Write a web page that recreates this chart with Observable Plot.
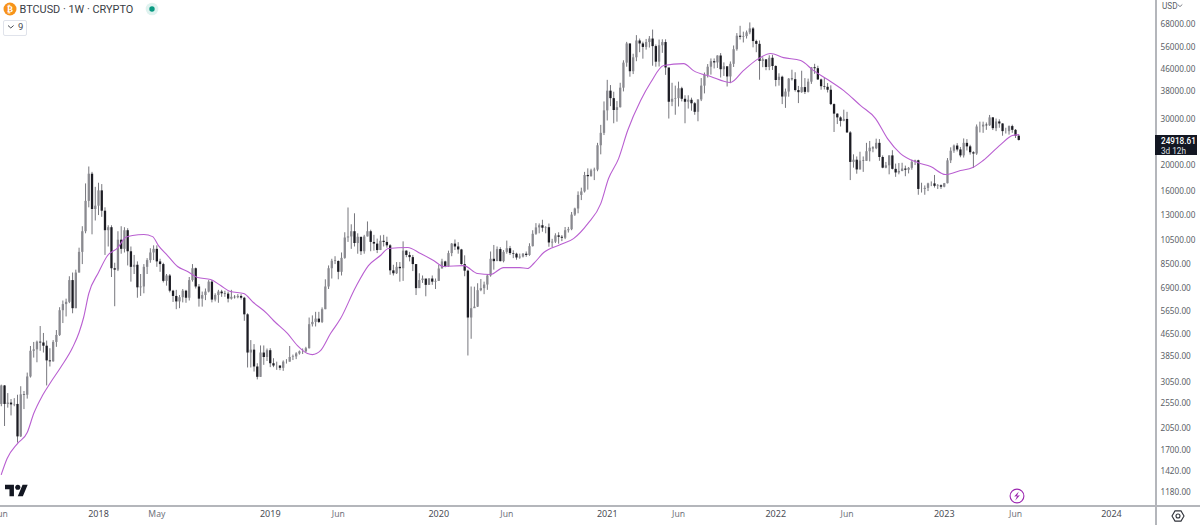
<!DOCTYPE html>
<html><head><meta charset="utf-8">
<script src="https://cdn.jsdelivr.net/npm/d3@7"></script>
<script src="https://cdn.jsdelivr.net/npm/@observablehq/plot@0.6"></script>
<style>
html,body{margin:0;padding:0;background:#fff;overflow:hidden}
#wrap{position:relative;width:1200px;height:525px;overflow:hidden;font-family:Roboto,"Noto Sans",sans-serif}
#wrap svg.plot{position:absolute;left:0;top:0;font-family:Roboto,"Noto Sans",sans-serif}
.abs{position:absolute}
</style></head><body><div id="wrap"></div>
<script>
const firstOpen = 2530;
const closes = [
2970,2530,2560,2520,2530,1910,2750,2740,3210,4010,
4060,4340,4310,4190,3690,3660,4330,4600,5700,6010,
6130,7400,5800,7900,9450,11300,14700,18600,13700,14100,
16100,13500,11400,11700,8200,8100,10500,9700,11400,9500,
8300,8450,6950,7000,8300,8800,9400,9700,8700,8500,
7350,7700,6750,6450,6150,6380,6750,6350,7400,8200,
7000,6300,6500,6700,7300,6250,6500,6700,6600,6580,
6300,6400,6380,6450,6350,5500,3950,4050,3500,3200,
3950,3800,4030,3600,3530,3530,3460,3650,3650,3800,
3820,3920,3990,3990,4100,5050,5150,5300,5150,5750,
7000,8200,8750,8730,7950,8970,10700,10800,11300,10200,
10770,9500,10800,11300,10300,10150,9600,10400,10300,10000,
8050,7850,8300,8200,9550,9200,9030,8500,6900,7400,
7500,7100,7500,7300,7350,8180,8700,8350,9350,10150,
9900,9650,8500,8030,5350,5800,5880,6780,6900,7120,
7700,8900,8720,9680,8720,9450,9750,9350,9300,9000,
9070,9300,9200,9930,11050,11680,11900,11650,11700,10250,
10320,10900,10770,10680,11400,11500,13050,13760,15480,15950,
18400,18200,19150,19270,23800,26500,32200,38200,35800,32300,
33100,39200,48700,57500,45200,51000,59000,57500,55800,58200,
60000,56200,49100,56600,58200,46700,34700,35600,35800,39000,
35600,34700,35300,34250,31800,35400,39900,43800,47000,49300,
48800,51800,46000,47200,43200,48200,54700,61500,60900,61300,
63300,65500,58700,57300,49400,50100,46900,50800,47300,41900,
43100,36300,37900,42400,42200,38400,37700,39400,37800,41300,
46800,46400,42100,39700,39500,38500,34000,31300,30300,29400,
29900,26600,20600,21000,19300,20850,20800,22600,23300,23200,
24300,21500,19600,20000,21800,19400,18800,19050,19450,19250,
19570,20630,20900,16300,16300,16450,17100,17100,16750,16830,
16620,17130,20880,22700,23740,22950,21800,24300,23570,22400,
22150,28000,28000,28450,28300,30300,27600,29250,28750,26900,
26900,28100,27200,25850,24918.61];
const highs = [
2990,2980,2780,2640,2660,2740,2950,2830,3320,4180,
4330,4380,4970,4680,4380,4100,4400,4800,5850,6200,
6300,7650,7900,8100,9800,11800,17100,19800,18900,16600,
17200,17000,13900,11900,11900,8600,11300,11800,11700,11600,
9900,9200,8700,7800,8500,8950,9750,10000,10000,8900,
8600,7800,7800,6800,6800,6500,6850,6800,7600,8500,
8250,7150,6700,6880,7400,7410,6600,6800,6800,6750,
6700,6800,6500,6550,6550,6400,5550,4400,4250,3600,
4200,4200,4090,4100,3760,3650,3530,3690,3730,4180,
3880,3960,4020,4090,4150,5350,5450,5620,5620,5840,
7450,8400,8900,9100,8780,9400,11200,13880,12000,13200,
11100,10650,10950,12300,11450,10950,10600,10900,10950,10780,
10100,8450,8650,8650,10350,9570,9450,9200,8500,7850,
7700,7450,7530,7700,7500,8450,8900,8750,9550,10200,
10520,10280,9700,9170,8100,7000,6990,7200,7470,7300,
7800,9480,10030,9900,9840,9600,10420,9950,9580,9380,
9310,9350,9480,10180,11400,12120,12090,12480,11800,12080,
10580,11100,11200,10930,11720,11730,13350,13860,15960,16480,
18900,19480,19420,19600,24300,28400,34800,41950,40100,37850,
34900,40900,49700,58300,57500,52600,61800,60000,58400,59800,
61300,64850,57000,59500,59600,59600,46500,40900,39900,41300,
39500,36700,36700,35950,34600,35400,42600,44700,48100,50500,
50500,51900,52900,48800,45000,49200,56500,62900,67000,63700,
64300,69000,66300,59400,59000,51000,50200,51900,52100,47600,
44400,43500,38900,42600,45800,44800,39800,45400,42600,42400,
46900,48200,47400,42400,42900,40800,40000,34200,31400,30600,
32400,31800,26900,22000,21600,22500,21600,24300,24700,23600,
25200,25100,21800,20600,21800,22800,20300,20400,20450,19950,
19700,21000,21000,21000,17200,16800,17200,17400,18400,17000,
16950,17170,21300,23370,23950,24250,23450,25250,25100,23900,
22600,28500,29200,29200,29000,30950,30400,30000,29800,28800,
27700,28250,28450,27400,26100];
const lows = [
2480,2090,2450,2290,2480,1810,1900,2420,2650,3180,
3780,3630,4010,3950,2970,3500,3650,4150,4560,5100,
5400,6060,5550,5800,7900,8500,11100,13900,11000,12400,
13000,12800,9200,9900,7600,5900,8000,9300,9400,8400,
7300,7800,6350,6450,6600,7800,8600,8800,8300,7950,
7250,7050,6650,6120,5750,5800,6100,6080,6200,7300,
6880,5880,5880,6220,6650,6100,6150,6080,6400,6400,
6100,6250,6300,6320,6250,5200,3470,3470,3350,3130,
3200,3550,3670,3480,3480,3400,3390,3370,3590,3650,
3700,3730,3880,3900,3950,4090,4950,4950,5100,5100,
5750,6850,7500,8500,7450,7700,8900,10300,9700,9900,
9300,9200,9300,10800,9500,9550,9350,9600,9900,9800,
7750,7700,7800,7300,7350,9020,8700,8000,6500,7230,
7220,6430,7100,7100,6850,7350,8200,8270,8300,9100,
9600,9300,8450,7650,3850,4450,5850,5860,6720,6550,
6800,7620,8100,8800,8700,8630,9300,9200,8950,8830,
8900,9000,9050,9130,9900,10950,11100,11250,11100,9880,
9850,10200,10140,10370,10550,11170,11400,12900,13200,14800,
15800,16200,18150,17600,19000,22000,26000,29500,33400,28800,
29200,33000,37950,47000,43100,44100,49300,53300,50400,54500,
55500,47400,47000,47100,53000,43800,30000,33400,31000,33300,
34800,28800,32700,32100,31000,29300,34900,37300,42800,43900,
46300,46500,42800,43400,39600,40750,46900,54000,59500,58000,
60000,62300,55600,53300,42000,46800,45600,45600,45700,39650,
39900,34000,32900,36250,41700,37900,34300,37500,37100,37600,
40500,44200,41900,38500,38600,37600,33700,26700,28600,28000,
29300,26500,17600,19600,18600,19300,18900,20800,20700,22400,
23000,20800,19500,19500,18500,19300,18100,18500,19000,18200,
18650,19250,20050,15500,15800,15500,16000,16700,16500,16300,
16300,16530,17100,20400,22300,22550,21450,21400,22750,21950,
19550,21900,26600,26500,27200,28150,27150,26900,27700,25850,
26350,26100,26500,25350,24800];

const maWeeks = [0,1.8,5,8,10,12.7,15.2,18.3,22,24,25.4,27,30,32.8,36,38.3,40.5,44,46.7,48.5,51.3,54.4,57.5,60.6,64.6,67.7,70.7,74.8,77.8,82,84,88.3,91.4,94.5,96,98.5,101.6,104.7,109.3,113.3,117,119.5,125.4,129.4,133.4,136.5,142.7,147,151,155,160,162.4,164.3,167.4,172.6,176.6,181,185,187.4,190.5,193.3,197.3,200.4,204.4,210.6,213.6,218.9,225,229,233.7,237.4,241.4,246.7,250.7,255,260,265.2,269.8,273.5,277.5,282.8,286.8,291.4,296,299.8,303,308.4,312,314];
const maValues = [1379,1584,1803,1983,2338,2733,3059,3484,4141,4719,5374,6616,7934,9193,9852,10745,10930,11030,10830,10020,9193,8358,8005,7597,7467,7088,6729,6616,6120,5561,5236,4679,4215,3932,3897,4033,4679,5324,6968,8426,9193,9772,9852,9350,8806,8358,8426,7868,7800,8282,8282,8214,8582,9438,10112,10649,12124,14416,17911,21298,27152,35210,41154,47675,48498,45628,43357,41154,45628,50626,52904,51088,49776,45628,42242,38379,33701,30124,25316,22236,20570,19876,18544,19196,19700,20937,24038,25990,26221];

const priceTicks = [68000,56000,46000,38000,30000,20000,16000,13000,10500,8500,6900,5650,4650,3850,3050,2550,2050,1700,1420,1180];
const yearWeeks = [30,83,135,187,239,291,342.6];
const yearLabels = ["2018","2019","2020","2021","2022","2023","2024"];
const monthWeeks = [0,48,104,156,209,261,313];
const monthLabels = ["Jun","May","Jun","Jun","Jun","Jun","Jun"];

const candles = closes.map((c,i)=>({week:i,open:i?closes[i-1]:firstOpen,close:c,high:highs[i],low:lows[i],up:c>=(i?closes[i-1]:firstOpen)}));
const ma = maWeeks.map((w,i)=>({week:w,value:maValues[i]}));
const candleFill = d=>d.up?"#8a8a90":"#1c1c23";

const chart = Plot.plot({
  width:1200,height:525,marginTop:0,marginLeft:0,marginRight:45,marginBottom:20,
  style:{background:"transparent",overflow:"hidden"},
  x:{type:"linear",domain:[-0.247,356.2],label:null},
  y:{type:"log",domain:[1054,83790],label:null},
  marks:[
    Plot.ruleX(candles,{x:"week",y1:"low",y2:"high",stroke:"#77777d",strokeWidth:1}),
    Plot.ruleX(candles,{x:"week",y1:"open",y2:"close",stroke:candleFill,strokeWidth:2.3}),
    Plot.line(ma,{x:"week",y:"value",stroke:"#b95fd1",strokeWidth:1.1,curve:"monotone-x"}),
    Plot.axisY(priceTicks,{anchor:"right",tickSize:0,tickPadding:5,tickFormat:d=>d.toFixed(2),fontSize:8.2,fill:"#5c5f68",textAnchor:"start",label:null}),
    Plot.axisX(yearWeeks,{anchor:"bottom",tickSize:0,tickPadding:5,tickFormat:d=>yearLabels[yearWeeks.indexOf(d)],fontSize:9,fill:"#4a4d55",label:null}),
    Plot.axisX(monthWeeks,{anchor:"bottom",tickSize:0,tickPadding:5,tickFormat:d=>monthLabels[monthWeeks.indexOf(d)],fontSize:8.6,fill:"#6f727b",label:null})
  ]
});
const wrap=document.getElementById("wrap");
wrap.appendChild(chart);
const overlay=`
<div class="abs" style="left:1155px;top:0;width:1.5px;height:525px;background:#b4b6bb"></div>
<div class="abs" style="left:0;top:505px;width:1200px;height:1.5px;background:#b4b6bb"></div>
<svg class="abs" style="left:3px;top:2px" width="14" height="14" viewBox="0 0 14 14"><circle cx="7" cy="7" r="6.5" fill="#f7931a"/><text x="7" y="10.2" text-anchor="middle" font-size="9" font-weight="700" fill="#fff" font-family="DejaVu Sans">₿</text></svg>
<div class="abs" style="left:19.5px;top:1.5px;font-size:10.9px;line-height:16px;color:#3a3d45;white-space:nowrap">BTCUSD · 1W · CRYPTO</div>
<svg class="abs" style="left:145px;top:2px" width="14" height="14"><circle cx="7" cy="7" r="6.3" fill="#089981" opacity=".13"/><circle cx="7" cy="7" r="2.7" fill="#089981"/></svg>
<div class="abs" style="left:3px;top:19.5px;width:22px;height:14px;border:1px solid #e0e3eb;border-radius:2px;box-sizing:content-box"></div>
<svg class="abs" style="left:7px;top:24px" width="8" height="6"><path d="M1 1.5 L3.8 4 L6.6 1.5" fill="none" stroke="#4a4d55" stroke-width="1"/></svg>
<div class="abs" style="left:18px;top:20px;font-size:9.5px;line-height:14px;color:#4a4d55">9</div>
<div class="abs" style="left:1162px;top:1px;font-size:8.2px;line-height:11px;color:#5c5f68">USD</div>
<svg class="abs" style="left:1177px;top:3px" width="6" height="6"><path d="M.7 1.5 L3 3.6 L5.3 1.5" fill="none" stroke="#5c5f68" stroke-width=".8"/></svg>
<div class="abs" style="left:1155px;top:135px;width:42px;height:20px;background:#131722;color:#fff;font-size:8.2px;line-height:10px;box-sizing:border-box;padding:1px 0 0 6px;white-space:nowrap"><b style="font-weight:500">24918.61</b><br><span style="color:#dfe1e6">3d 12h</span></div>
<svg class="abs" style="left:5px;top:484px" width="23" height="13" viewBox="0 0 36 20"><path d="M14 19H7V8H0V1h14z M28 19h-8L27.5 1h8z" fill="#131722"/><circle cx="20" cy="5" r="4" fill="#131722"/></svg>
<svg class="abs" style="left:1009px;top:488px" width="16" height="16" viewBox="0 0 16 16"><circle cx="8" cy="8" r="6.9" fill="none" stroke="#9c27b0" stroke-width="1.1"/><path d="M9.8 3.4 L5.2 8.6 L8 8.2 L6.2 12.6 L10.9 7.3 L8 7.8 Z" fill="#9c27b0"/></svg>
<svg class="abs" style="left:1171px;top:509px" width="14" height="14" viewBox="0 0 14 14"><path d="M4 1.9 H10 L13 7 L10 12.1 H4 L1 7 Z" fill="none" stroke="#30333a" stroke-width="1.1"/><circle cx="7" cy="7" r="2" fill="none" stroke="#30333a" stroke-width="1.1"/></svg>`;
const ov=document.createElement("div");ov.innerHTML=overlay;wrap.appendChild(ov);
</script></body></html>
